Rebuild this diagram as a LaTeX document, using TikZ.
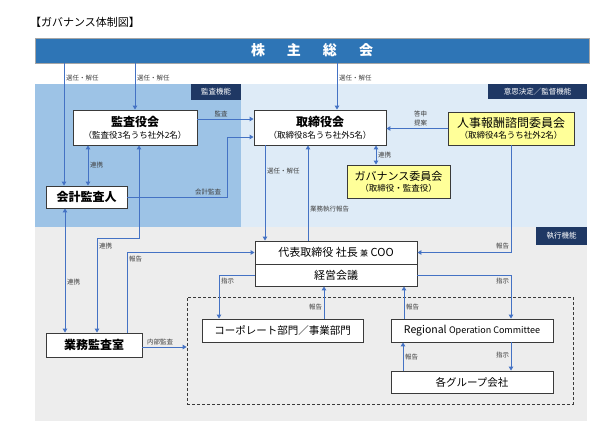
\documentclass[tikz,border=0pt]{standalone}
\usepackage{fontspec}
\setmainfont{Noto Sans CJK JP}
\usetikzlibrary{arrows.meta,positioning,calc}

\definecolor{soukaic}{HTML}{2E75B6}
\definecolor{kansac}{HTML}{9DC3E6}
\definecolor{ketteic}{HTML}{DEEBF7}
\definecolor{shikkoc}{HTML}{EDEDED}
\definecolor{tagc}{HTML}{1F3864}
\definecolor{linec}{HTML}{4472C4}
\definecolor{yelc}{HTML}{FFFF99}
\definecolor{boxc}{HTML}{3A3A3A}
\definecolor{labc}{HTML}{404040}

\begin{document}
\begin{tikzpicture}[x=1pt, y=-1pt,
  caja/.style={draw=boxc, fill=white, line width=0.9pt, inner sep=0pt, align=center},
  amarilla/.style={caja, fill=yelc},
  etiqueta/.style={fill=tagc, text=white, inner sep=0pt, font=\fontsize{7.5}{8}\selectfont},
  rot/.style={font=\fontsize{6.5}{9}\selectfont, text=labc, inner sep=1.5pt},
  flecha/.style={draw=linec, line width=1pt, -{Triangle[width=4.5pt,length=4pt]}},
  doble/.style={flecha, {Triangle[width=4.5pt,length=4pt]}-{Triangle[width=4.5pt,length=4pt]}}]
  \useasboundingbox (0,0) rectangle (612,432);
  % las tres zonas de fondo
  \fill[kansac] (35,84) rectangle (241,227);
  \fill[ketteic] (241,84) rectangle (587,227);
  \fill[shikkoc] (35,227) rectangle (587,421);
  \node[etiqueta, minimum width=50pt, minimum height=16pt] (tagkansa) at (216,92) {監査機能};
  \node[etiqueta, minimum width=99pt, minimum height=15pt] (tagkettei) at (537.5,91.5) {意思決定／監督機能};
  \node[etiqueta, minimum width=51pt, minimum height=18pt] (tagshikko) at (561.5,236) {執行機能};
  % titulo y junta general
  \node[anchor=west, inner sep=0pt, font=\fontsize{11}{12}\selectfont] (titulo) at (30,22) {【ガバナンス体制図】};
  \node[draw=gray!70, fill=soukaic, line width=0.8pt, minimum width=554pt, minimum height=25pt, inner sep=0pt,
        text=white, font=\fontsize{14}{16}\selectfont\bfseries] (soukai) at (312,50.5)
        {株\hspace{22pt}主\hspace{22pt}総\hspace{22pt}会};
  % las cajas
  \node[caja, minimum width=124pt, minimum height=35pt] (kansayaku) at (135,127.5)
    {{\fontsize{12}{13}\selectfont\bfseries 監査役会}\\{\fontsize{8.5}{10}\selectfont （監査役3名うち社外2名）}};
  \node[caja, minimum width=132pt, minimum height=35pt] (torishimari) at (320,127.5)
    {{\fontsize{12}{13}\selectfont\bfseries 取締役会}\\{\fontsize{8.5}{10}\selectfont （取締役8名うち社外5名）}};
  \node[amarilla, minimum width=126pt, minimum height=33pt] (jinji) at (511,128.5)
    {{\fontsize{12}{13}\selectfont 人事報酬諮問委員会}\\[-1pt]{\fontsize{8.5}{10}\selectfont （取締役4名うち社外2名）}};
  \node[amarilla, minimum width=103pt, minimum height=33pt] (gov) at (398.5,181.5)
    {{\fontsize{11}{12}\selectfont ガバナンス委員会}\\[-1pt]{\fontsize{8.5}{10}\selectfont （取締役・監査役）}};
  \node[caja, minimum width=81pt, minimum height=22pt, font=\fontsize{12}{13}\selectfont\bfseries] (kaikei) at (86.5,197) {会計監査人};
  \node[caja, minimum width=96pt, minimum height=24pt, font=\fontsize{12}{13}\selectfont\bfseries] (gyomu) at (94,345) {業務監査室};
  \node[caja, minimum width=162pt, minimum height=23pt, font=\fontsize{11}{12}\selectfont] (daihyo) at (336,252.5)
    {代表取締役 社長 {\fontsize{8}{10}\selectfont 兼} COO};
  \node[caja, minimum width=162pt, minimum height=22pt, font=\fontsize{11}{12}\selectfont] (keiei) at (336,275) {経営会議};
  \node[draw=boxc, dashed, dash pattern=on 3pt off 2pt, line width=0.8pt, minimum width=386pt, minimum height=107pt,
        inner sep=0pt] (bumon) at (380,350.5) {};
  \node[caja, minimum width=161pt, minimum height=23pt, font=\fontsize{10.5}{12}\selectfont] (corp) at (282.5,330.5) {コーポレート部門／事業部門};
  \node[caja, minimum width=162pt, minimum height=23pt, font=\fontsize{10.5}{12}\selectfont] (regional) at (472,330.5)
    {Regional {\fontsize{9}{10}\selectfont Operation Committee}};
  \node[caja, minimum width=162pt, minimum height=22pt, font=\fontsize{10.5}{12}\selectfont] (group) at (472,382) {各グループ会社};
  % desde la junta general
  \coordinate (p1) at ([xshift=-22.5pt]kaikei.north);
  \draw[flecha] (p1 |- soukai.south) -- node[rot, right, pos=0.12] {選任・解任} (p1);
  \draw[flecha] (kansayaku.north |- soukai.south) -- node[rot, right, pos=0.31] {選任・解任} (kansayaku.north);
  \coordinate (p2) at ([xshift=17pt]torishimari.north);
  \draw[flecha] (p2 |- soukai.south) -- node[rot, right, pos=0.31] {選任・解任} (p2);
  % auditoria
  \coordinate (p3) at ([yshift=8.5pt]kansayaku.east);
  \draw[flecha] (p3) -- node[rot, above, pos=0.42] {監査} (p3 -| torishimari.west);
  \coordinate (p4) at ([yshift=-9.5pt]torishimari.west);
  \coordinate (q1) at (227,197);
  \draw[flecha] (kaikei.east) -- node[rot, above, pos=0.81] {会計監査} (q1) |- (p4);
  \coordinate (p5) at ([xshift=-47pt]kansayaku.south);
  \draw[doble] (p5) -- node[rot, right] {連携} (p5 |- kaikei.north);
  \coordinate (p6) at ([xshift=4pt]kansayaku.south);
  \coordinate (p7) at ([xshift=3pt]gyomu.north);
  \draw[doble] (p6) -- ++(0,93) -| node[rot, right, pos=0.54] {連携} (p7);
  \coordinate (p8) at ([xshift=-21.5pt]kaikei.south);
  \draw[doble] (p8) -- node[rot, right, pos=0.59] {連携} (p8 |- gyomu.north);
  \coordinate (p9) at ([xshift=33pt]gyomu.north);
  \draw[flecha] (p9) |- node[rot, right, pos=0.46] {報告} (daihyo.west);
  \coordinate (p10) at ([yshift=-2pt]gyomu.east);
  \draw[flecha] (p10) -- node[rot, above, pos=0.4] {内部監査} (p10 -| bumon.west);
  % consejo y comites
  \coordinate (p11) at ([xshift=-55pt]torishimari.south);
  \draw[flecha] (p11) -- node[rot, right, pos=0.27] {選任・解任} (p11 |- daihyo.north);
  \coordinate (p12) at ([xshift=-28pt]daihyo.north);
  \draw[flecha] (p12) -- node[rot, right, pos=0.33] {業務執行報告} (p12 |- torishimari.south);
  \coordinate (p13) at ([xshift=56pt]torishimari.south);
  \draw[doble] (p13) -- node[rot, right] {連携} (p13 |- gov.north);
  \draw[flecha] (jinji.west) -- node[rot, above, align=center, pos=0.44] {答申\\提案} (jinji.west -| torishimari.east);
  \draw[flecha] (jinji.south) |- node[rot, left, pos=0.47] {報告} (daihyo.east);
  % ejecucion
  \coordinate (p14) at ([xshift=-63.5pt]corp.north);
  \draw[flecha] (keiei.west) -| node[rot, right, pos=0.57] {指示} (p14);
  \coordinate (p15) at ([xshift=41.5pt]corp.north);
  \draw[flecha] (p15) -- node[rot, left, pos=0.36] {報告} (p15 |- keiei.south);
  \coordinate (p16) at ([xshift=-68pt]regional.north);
  \draw[flecha] (p16) -- node[rot, right, pos=0.36] {報告} (p16 |- keiei.south);
  \coordinate (p17) at ([xshift=39pt]regional.north);
  \draw[flecha] (keiei.east) -| node[rot, left, pos=0.57] {指示} (p17);
  \coordinate (p18) at ([xshift=39pt]regional.south);
  \draw[flecha] (p18) -- node[rot, left, pos=0.45] {指示} (p18 |- group.north);
  \coordinate (p19) at ([xshift=-69pt]group.north);
  \draw[flecha] (p19) -- node[rot, right, pos=0.48] {報告} (p19 |- regional.south);
\end{tikzpicture}
\end{document}
